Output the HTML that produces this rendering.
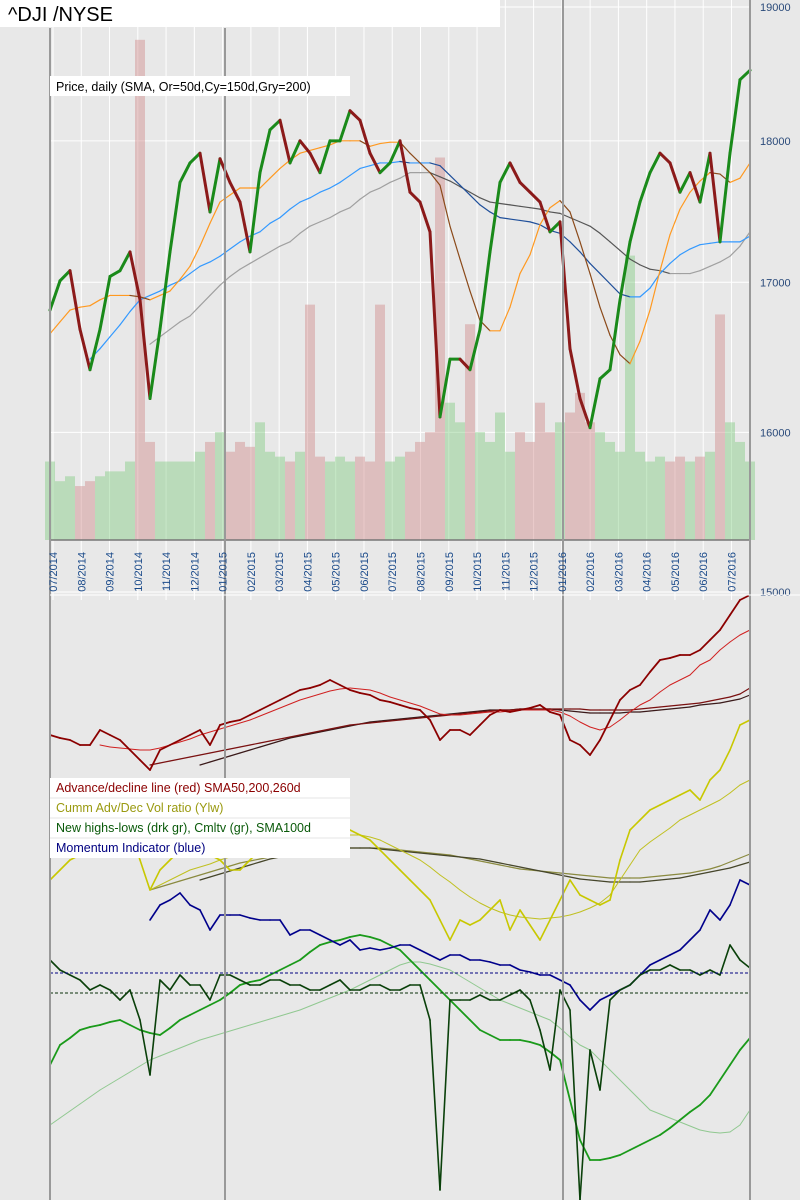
<!DOCTYPE html>
<html><head><meta charset="utf-8">
<style>
html,body{margin:0;padding:0;background:#e8e8e8;}
#wrap{position:relative;width:800px;height:1200px;overflow:hidden;font-family:"Liberation Sans",sans-serif;}
svg{position:absolute;left:0;top:0;}
</style></head>
<body>
<div id="wrap">
<svg id="chart" width="800" height="1200" viewBox="0 0 800 1200">
  <rect x="0" y="0" width="800" height="1200" fill="#e8e8e8"/>
  <g id="grid"></g>
  <g id="vol"></g>
  <g id="price"></g>
  <g id="lower"></g>
  <g id="axes"></g>
  <rect x="0" y="0" width="500" height="27" fill="#ffffff"/>
  <text x="8" y="21" font-size="20" fill="#000">^DJI /NYSE</text>
  <rect x="50" y="76" width="300" height="20" fill="#ffffff"/>
  <text x="56" y="91" font-size="12.5" fill="#000">Price, daily (SMA, Or=50d,Cy=150d,Gry=200)</text>
  <g>
    <rect x="50" y="778" width="300" height="80" fill="#ffffff"/>
    <line x1="50" y1="798" x2="350" y2="798" stroke="#e4e4e4"/>
    <line x1="50" y1="818" x2="350" y2="818" stroke="#e4e4e4"/>
    <line x1="50" y1="838" x2="350" y2="838" stroke="#e4e4e4"/>
    <text x="56" y="792" font-size="12.5" fill="#8b0000">Advance/decline line (red) SMA50,200,260d</text>
    <text x="56" y="812" font-size="12.5" fill="#9a9a10">Cumm Adv/Dec Vol ratio (Ylw)</text>
    <text x="56" y="832" font-size="12.5" fill="#0a5a0a">New highs-lows (drk gr), Cmltv (gr), SMA100d</text>
    <text x="56" y="852" font-size="12.5" fill="#000080">Momentum Indicator (blue)</text>
  </g>
</svg>
</div>
<script>
// ---- data (71 weekly samples, Jul 2014 - Jul 2016) ----
const priceClose = [16810,17010,17080,16680,16410,16680,17040,17080,17210,16880,16220,16680,17210,17700,17840,17910,17490,17870,17700,17560,17210,17770,18080,18150,17840,18000,17910,17770,18000,18000,18220,18150,17910,17770,17840,18000,17630,17560,17350,16100,16480,16480,16410,16680,17210,17700,17840,17700,17630,17560,17350,17420,16550,16220,16030,16350,16410,16880,17280,17560,17770,17910,17840,17630,17770,17560,17910,17280,17910,18450,18520];
const sma50 = [16650,16730,16810,16830,16840,16880,16910,16910,16910,16900,16880,16910,16940,17020,17110,17250,17410,17560,17610,17660,17660,17660,17730,17800,17860,17910,17930,17950,17970,18000,18000,18000,17960,17980,17990,17990,17910,17840,17770,17680,17390,17160,16940,16740,16670,16670,16830,17060,17190,17400,17520,17570,17490,17280,17060,16830,16640,16510,16450,16600,16810,17080,17330,17510,17630,17710,17770,17760,17700,17730,17840];
const sma150 = [null,null,null,null,16480,16550,16630,16710,16800,16880,16910,16940,16980,17010,17060,17110,17140,17180,17230,17280,17320,17350,17410,17450,17510,17560,17590,17630,17660,17700,17750,17800,17820,17840,17840,17850,17840,17840,17840,17820,17750,17680,17610,17540,17490,17450,17440,17430,17420,17400,17360,17340,17280,17210,17130,17060,16990,16920,16900,16900,16960,17060,17130,17190,17230,17260,17270,17280,17280,17280,17320];
const sma200 = [null,null,null,null,null,null,null,null,null,null,16580,16630,16680,16730,16770,16840,16910,16980,17040,17090,17130,17170,17210,17250,17280,17340,17390,17420,17450,17490,17520,17580,17630,17660,17700,17730,17770,17770,17770,17740,17710,17670,17630,17590,17560,17550,17540,17530,17520,17510,17490,17480,17450,17420,17390,17340,17280,17220,17160,17120,17090,17080,17060,17060,17060,17080,17110,17140,17180,17250,17350];
const volume = [80,60,65,55,60,65,70,70,80,510,100,80,80,80,80,90,100,110,90,100,95,120,90,85,80,90,240,85,80,85,80,85,80,240,80,85,90,100,110,390,140,120,220,110,100,130,90,110,100,140,110,120,130,150,120,110,100,90,290,90,80,85,80,85,80,85,90,230,120,100,80];
// lower panel (indicator index units)
const adLine = [465,462,460,455,455,470,465,460,450,440,430,450,455,460,465,470,455,475,478,480,485,490,495,500,505,510,512,515,520,515,510,507,505,500,498,495,492,490,480,460,470,470,465,475,485,490,488,490,492,495,488,485,460,455,445,460,480,500,510,515,528,540,542,545,545,550,560,570,585,600,605];
const adSma50 = [null,null,null,null,null,455,453,452,451,450,450,452,455,458,461,465,468,471,474,477,480,484,488,492,496,500,503,506,509,511,512,511,510,507,503,500,497,494,490,486,485,485,486,487,488,488,489,490,490,490,490,488,484,478,473,470,473,480,488,495,500,508,515,520,525,535,540,550,558,565,570];
const adSma200 = [null,null,null,null,null,null,null,null,null,null,435,437,439,441,443,445,447,449,451,453,455,457,459,461,463,465,467,469,471,473,475,476,477,478,479,480,481,482,483,484,485,486,487,488,489,490,490,491,491,491,491,491,491,491,490,490,490,490,490,491,492,493,494,495,496,497,499,501,503,506,512];
const adSma260 = [null,null,null,null,null,null,null,null,null,null,null,null,null,null,null,435,438,441,444,447,450,453,456,459,462,464,466,468,470,472,474,476,478,479,480,481,482,483,484,485,486,487,488,489,490,490,490,491,491,491,491,490,489,488,487,487,487,487,488,488,489,490,491,492,493,495,496,497,499,501,505];
const advDecVol = [320,330,340,345,350,360,370,380,370,340,310,330,340,350,350,355,345,340,330,330,340,350,355,360,365,370,375,380,375,370,370,365,360,350,340,330,320,310,300,280,260,280,275,280,290,300,270,290,275,260,280,300,320,305,300,295,300,340,370,380,390,395,400,405,410,400,420,430,450,475,480];
const advDecSma = [null,null,null,null,null,null,null,null,null,null,310,315,320,325,330,333,336,340,343,346,348,350,352,354,356,358,360,362,363,364,365,365,363,360,355,350,345,340,333,325,318,310,303,297,292,288,285,283,282,281,282,283,285,288,292,297,305,320,335,350,358,365,372,380,385,390,395,400,407,415,420];
const advDecSmaA = [null,null,null,null,null,null,null,null,null,null,310,313,316,319,322,325,328,331,334,337,339,341,343,345,347,348,349,350,351,352,352,352,352,352,351,350,349,348,347,346,345,343,341,339,337,335,333,331,330,329,328,327,326,325,324,323,322,322,322,322,323,324,325,326,327,329,331,334,338,342,346];
const advDecSmaB = [null,null,null,null,null,null,null,null,null,null,null,null,null,null,null,320,323,326,329,332,335,338,341,343,345,347,349,350,351,352,352,352,352,351,350,349,348,347,346,345,344,343,342,341,339,337,335,333,331,329,327,325,323,321,320,319,318,318,318,318,319,320,321,322,324,326,328,330,332,335,338];
const momentum = [null,null,null,null,null,null,null,null,null,null,280,295,300,307,295,290,270,285,285,285,282,280,280,280,265,270,270,265,260,255,260,250,252,250,252,255,255,250,245,240,245,245,240,240,238,235,235,230,228,225,225,220,215,200,190,200,205,210,215,225,235,240,245,250,260,270,290,280,295,320,315];
const newHighsLows = [240,230,225,220,210,215,210,200,210,180,125,220,210,225,215,215,200,225,225,220,215,215,220,220,215,215,210,210,215,220,210,210,215,215,210,210,215,215,180,10,200,200,200,205,200,200,205,210,200,170,130,210,190,0,150,110,200,210,215,225,230,230,235,230,230,225,230,225,255,240,232];
const nhlCumulative = [135,155,162,170,173,175,178,180,175,170,167,165,172,180,185,190,195,200,207,215,218,220,225,230,235,240,248,255,258,260,263,265,263,260,255,250,240,230,220,210,200,190,180,170,165,160,160,160,158,155,148,140,100,60,40,40,42,45,50,55,60,65,72,80,88,95,105,120,135,150,162];
const nhlSma100 = [75,82,89,96,103,110,116,122,128,134,140,144,148,152,156,160,163,166,169,172,175,178,181,184,187,190,194,198,202,206,210,215,220,225,230,235,238,238,236,233,230,224,218,212,206,200,196,192,188,184,180,172,163,155,150,140,130,120,110,100,90,86,82,78,74,70,68,67,68,75,90];
const monthLabels = ["07/2014","08/2014","09/2014","10/2014","11/2014","12/2014","01/2015","02/2015","03/2015","04/2015","05/2015","06/2015","07/2015","08/2015","09/2015","10/2015","11/2015","12/2015","01/2016","02/2016","03/2016","04/2016","05/2016","06/2016","07/2016"];
const priceTicks = [19000,18000,17000,16000,15000];

// ---- scales ----
const NS = "http://www.w3.org/2000/svg";
const X0 = 50, X1 = 750;
function xScale(i){ return X0 + i * (X1 - X0) / (priceClose.length - 1); }
function monthX(k){ return 53 + k * 28.27; }
function yPrice(v){ return 7 + 2475 * Math.log(19000 / v); }
const VOL_BASE = 540, VOL_MAX = 520;
function yVol(v){ return VOL_BASE - v / VOL_MAX * 510; }
function yLow(v){ return 1200 - v; }

function mk(tag, attrs, parent){
  const el = document.createElementNS(NS, tag);
  for (const k in attrs) el.setAttribute(k, attrs[k]);
  parent.appendChild(el);
  return el;
}
const grid = document.getElementById('grid');
const axes = document.getElementById('axes');
const volG = document.getElementById('vol');
const priceG = document.getElementById('price');
const lowG = document.getElementById('lower');

monthLabels.forEach((m, k) => {
  const gl = mk('line', {x1: monthX(k), x2: monthX(k), y1: 0, y2: 600, stroke: '#ffffff', 'stroke-width': 1}, grid);
  
  
});
priceTicks.forEach(t => {
  const y = yPrice(t);
  const hl = mk('line', {x1: X0, x2: X1, y1: y, y2: y, stroke: '#ffffff', 'stroke-width': 1}, grid);
  
  
  const tl = mk('text', {x: 760, y: y + 4, 'font-size': 11, fill: '#2a4a7a'}, axes);
  tl.textContent = t;
  
  
});

// volume
volume.forEach((v, i) => {
  const up = i === 0 || priceClose[i] >= priceClose[i - 1];
  const w = 10;
  const r = mk('rect', {x: xScale(i) - w / 2, y: yVol(v), width: w, height: VOL_BASE - yVol(v),
    fill: up ? 'rgba(130,205,130,0.45)' : 'rgba(205,130,130,0.42)'}, volG);
  
  
});

function drawSeries(parent, arr, yf, colorFn, width, name){
  for (let i = 1; i < arr.length; i++){
    if (arr[i] == null || arr[i - 1] == null) continue;
    const s = mk('line', {x1: xScale(i - 1), y1: yf(arr[i - 1]), x2: xScale(i), y2: yf(arr[i]),
      stroke: colorFn(arr[i], arr[i - 1]), 'stroke-width': width, 'stroke-linecap': 'round'}, parent);
    
    
  }
}
const fixed = c => () => c;
drawSeries(priceG, sma200, yPrice, (a, b) => a >= b ? '#a0a0a0' : '#555555', 1.2, 'sma200-line');
drawSeries(priceG, sma150, yPrice, (a, b) => a >= b ? '#3399ff' : '#1f4f9a', 1.2, 'sma150-line');
drawSeries(priceG, sma50, yPrice, (a, b) => a >= b ? '#ff9920' : '#8b4a1a', 1.2, 'sma50-line');
drawSeries(priceG, priceClose, yPrice, (a, b) => a >= b ? '#1a8a1a' : '#8b1a1a', 3, 'price-line');

drawSeries(lowG, nhlSma100, yLow, fixed('#90c890'), 1, 'nhl-sma100-line');
drawSeries(lowG, advDecSmaA, yLow, fixed('#8a8a40'), 1.2, 'advdec-sma-a-line');
drawSeries(lowG, advDecSmaB, yLow, fixed('#45452a'), 1.2, 'advdec-sma-b-line');
drawSeries(lowG, advDecSma, yLow, fixed('#c0c020'), 1, 'advdec-sma-line');
drawSeries(lowG, advDecVol, yLow, fixed('#c8c800'), 1.6, 'advdec-vol-line');
drawSeries(lowG, adSma260, yLow, fixed('#3a1a1a'), 1.2, 'ad-sma260-line');
drawSeries(lowG, adSma200, yLow, fixed('#7a1010'), 1.2, 'ad-sma200-line');
drawSeries(lowG, adSma50, yLow, fixed('#d02020'), 1, 'ad-sma50-line');
drawSeries(lowG, adLine, yLow, fixed('#8b0000'), 1.8, 'ad-line');
drawSeries(lowG, nhlCumulative, yLow, fixed('#1a9a1a'), 1.8, 'nhl-cumulative-line');
drawSeries(lowG, momentum, yLow, fixed('#00008b'), 1.6, 'momentum-line');
drawSeries(lowG, newHighsLows, yLow, fixed('#0a400a'), 1.6, 'new-highs-lows-line');

[[227, '#000080', 'momentum-reference-line'], [207, '#0a300a', 'nhl-zero-line']].forEach(d => {
  const l = mk('line', {x1: X0, x2: X1, y1: yLow(d[0]), y2: yLow(d[0]), stroke: d[1], 'stroke-width': 1, 'stroke-dasharray': '3,2'}, lowG);
  
  
});

const border = mk('line', {x1: X0, x2: X1, y1: 540, y2: 540, stroke: '#777', 'stroke-width': 1.5}, axes);


[[X0, 28], [225, 28], [563, 0], [X1, 0]].forEach(d => {
  const v = mk('line', {x1: d[0], x2: d[0], y1: d[1], y2: 1200, stroke: '#999', 'stroke-width': 2}, axes);
  
  
});
const hb = mk('line', {x1: X0, x2: 800, y1: 595, y2: 595, stroke: '#ffffff', 'stroke-width': 1}, axes);


monthLabels.forEach((m, k) => {
  const x = monthX(k);
  const t = mk('text', {x: 0, y: 0, 'font-size': 11, fill: '#1a4a8a', 'text-anchor': 'end',
    transform: 'translate(' + (x + 4) + ',552) rotate(-90)'}, axes);
  t.textContent = m;
  
  
});
</script>
</body></html>
